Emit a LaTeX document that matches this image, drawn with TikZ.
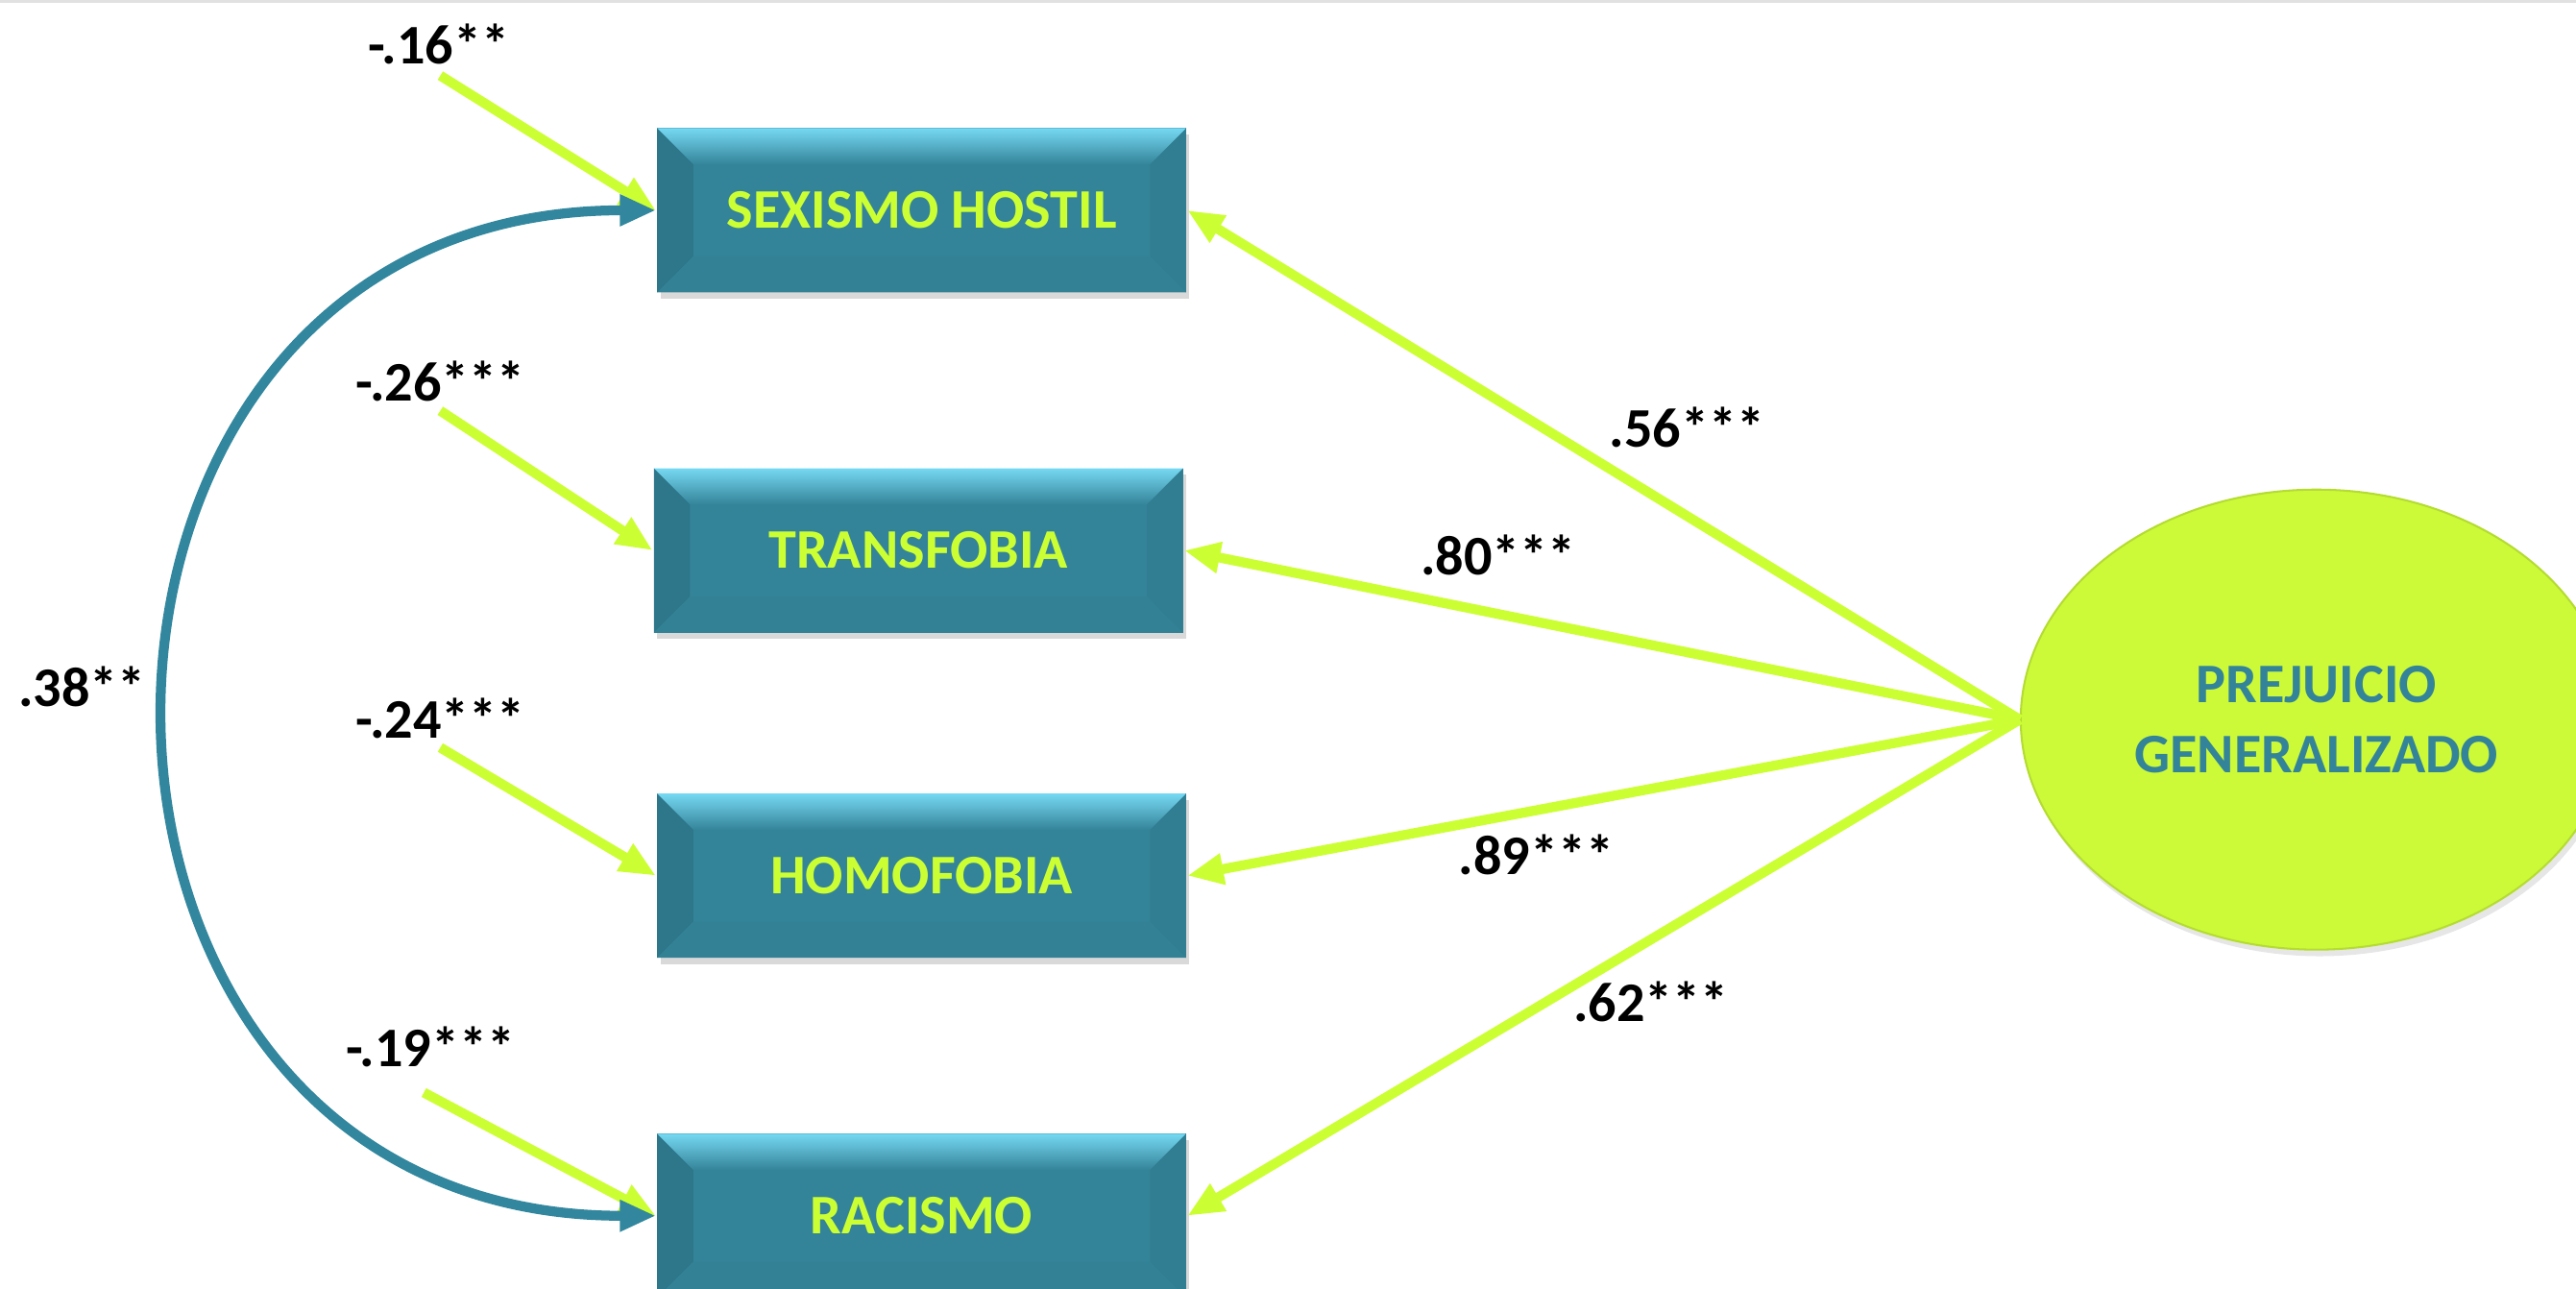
\documentclass[tikz,border=0pt]{standalone}
\usepackage{fontspec}
\setmainfont{Carlito}
\usetikzlibrary{arrows.meta,shapes.geometric,shadows}

\definecolor{boxteal}{RGB}{52,132,153}
\definecolor{bevlight}{RGB}{118,216,242}
\definecolor{bevleft}{RGB}{46,118,138}
\definecolor{bevright}{RGB}{49,126,146}
\definecolor{bevbottom}{RGB}{51,129,149}
\definecolor{limearrow}{RGB}{204,255,51}
\definecolor{ellime}{RGB}{204,250,56}
\definecolor{arcteal}{RGB}{50,135,158}
\definecolor{gridgray}{RGB}{225,225,225}

\tikzset{every picture/.style={line width=0.75pt},
  factor/.style={rectangle, minimum width=161pt, minimum height=50pt, fill=boxteal,
    text=limearrow, font=\bfseries\fontsize{17}{20}\selectfont,
    drop shadow={shadow xshift=1pt, shadow yshift=-2pt, opacity=0.3},
    path picture={
      \path (path picture bounding box.north west) coordinate (pnw)
            (path picture bounding box.north east) coordinate (pne)
            (path picture bounding box.south west) coordinate (psw)
            (path picture bounding box.south east) coordinate (pse);
      \fill[bevleft] (pnw) -- ([xshift=11pt,yshift=-11pt]pnw) -- ([xshift=11pt,yshift=11pt]psw) -- (psw) -- cycle;
      \fill[bevright] (pne) -- ([xshift=-11pt,yshift=-11pt]pne) -- ([xshift=-11pt,yshift=11pt]pse) -- (pse) -- cycle;
      \fill[bevbottom] (psw) -- ([xshift=11pt,yshift=11pt]psw) -- ([xshift=-11pt,yshift=11pt]pse) -- (pse) -- cycle;
      \shade[top color=bevlight, bottom color=boxteal] (pnw) -- (pne) -- ([xshift=-11pt,yshift=-11pt]pne) -- ([xshift=11pt,yshift=-11pt]pnw) -- cycle;
    }},
  latent/.style={ellipse, minimum width=180pt, minimum height=140pt, fill=ellime,
    draw=ellime!88!black, line width=0.6pt, text=boxteal, align=center,
    font=\bfseries\fontsize{17}{21.5}\selectfont,
    drop shadow={shadow xshift=1pt, shadow yshift=-2pt, opacity=0.2}},
  coef/.style={font=\bfseries\fontsize{17}{20}\selectfont},
  load/.style={draw=limearrow, line width=3pt, -{Triangle[width=9pt,length=11pt]}},
  cov/.style={draw=arcteal, line width=3pt, {Triangle[width=9pt,length=11pt]}-{Triangle[width=9pt,length=11pt]}}
}

\begin{document}
\begin{tikzpicture}[x=0.5pt,y=0.5pt,yscale=-1,xscale=1]
	\useasboundingbox (0,0) rectangle (1568,784);
	\draw[gridgray] (0,1) -- (1568,1);

	% observed variables
	\node[factor] (sh) at (561,128) {SEXISMO HOSTIL};
	\node[factor] (tr) at (559,335) {TRANSFOBIA};
	\node[factor] (ho) at (561,533) {HOMOFOBIA};
	\node[factor] (ra) at (561,740) {RACISMO};

	% latent factor
	\node[latent] (pg) at (1410,438) {PREJUICIO\\GENERALIZADO};

	% loadings
	\draw[load] (pg.west) -- (sh.east);
	\draw[load] (pg.west) -- (tr.east);
	\draw[load] (pg.west) -- (ho.east);
	\draw[load] (pg.west) -- (ra.east);

	% error terms
	\coordinate (e1) at (268,46);
	\coordinate (e2) at (268,250);
	\coordinate (e3) at (268,455);
	\coordinate (e4) at (258,665);
	\draw[load] (e1) -- (sh.west);
	\draw[load] (e2) -- (tr.west);
	\draw[load] (e3) -- (ho.west);
	\draw[load] (e4) -- (ra.west);

	% covariance
	\draw[cov] (ra.west) .. controls (4,740) and (4,128) .. (sh.west);

	% coefficients
	\node[coef] (c1) at (267,27) {-.16**};
	\node[coef] (c2) at (268,232) {-.26***};
	\node[coef] (c3) at (268,437) {-.24***};
	\node[coef] (c4) at (262,637) {-.19***};
	\node[coef] (c5) at (50,418) {.38**};
	\node[coef] (l1) at (1027,260) {.56***};
	\node[coef] (l2) at (912,338) {.80***};
	\node[coef] (l3) at (935,520) {.89***};
	\node[coef] (l4) at (1005,610) {.62***};

\end{tikzpicture}
\end{document}
